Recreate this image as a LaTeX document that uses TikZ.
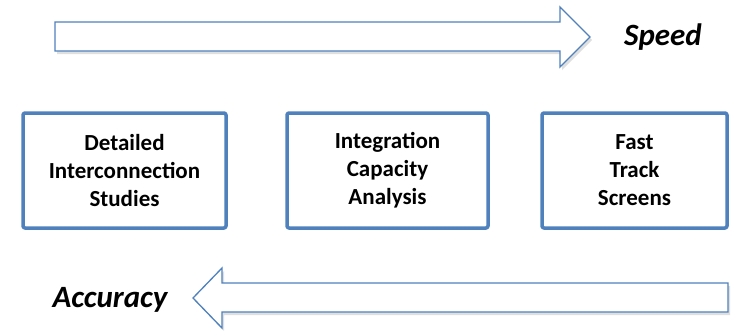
\documentclass[tikz,border=0pt]{standalone}
\usepackage{fontspec}
\setmainfont{Carlito}
\usepackage{tikz}
\usetikzlibrary{shadows}
\definecolor{boxblue}{HTML}{4F81BD}
\tikzset{
  stage/.style={draw=boxblue,line width=3.5pt,rounded corners=2pt,fill=white,align=center,
    font=\fontsize{23}{28}\selectfont\bfseries},
  bigarrow/.style={draw=boxblue,line width=1.3pt,fill=white,line join=miter,
    drop shadow={opacity=0.25,shadow xshift=2pt,shadow yshift=-3pt}},
  axislabel/.style={font=\fontsize{31}{36}\selectfont\bfseries\itshape}
}
\begin{document}
\begin{tikzpicture}[line cap=round,line join=round,x=1pt,y=-1pt]
		\useasboundingbox (0,0) rectangle (735,330);
		% speed arrow
		\draw[bigarrow] (55,22) -- (560,22) -- (560,7) -- (590,37) -- (560,67) -- (560,51) -- (55,51) -- cycle;
		\node[axislabel] (speed) at (663,37) {Speed};
		% the three studies
		\node[stage,minimum width=203pt,minimum height=115pt] (detailed) at (124.5,170.5) {Detailed\\Interconnection\\Studies};
		\node[stage,minimum width=201pt,minimum height=115pt] (capacity) at (387.5,170.5) {Integration\\Capacity\\Analysis};
		\node[stage,minimum width=185pt,minimum height=115pt] (fasttrack) at (634.5,170.5) {Fast\\Track\\Screens};
		% accuracy arrow
		\draw[bigarrow] (728,283) -- (222,283) -- (222,268) -- (193,298) -- (222,328) -- (222,312) -- (728,312) -- cycle;
		\node[axislabel] (accuracy) at (110,300) {Accuracy};
		
\end{tikzpicture}
\end{document}
